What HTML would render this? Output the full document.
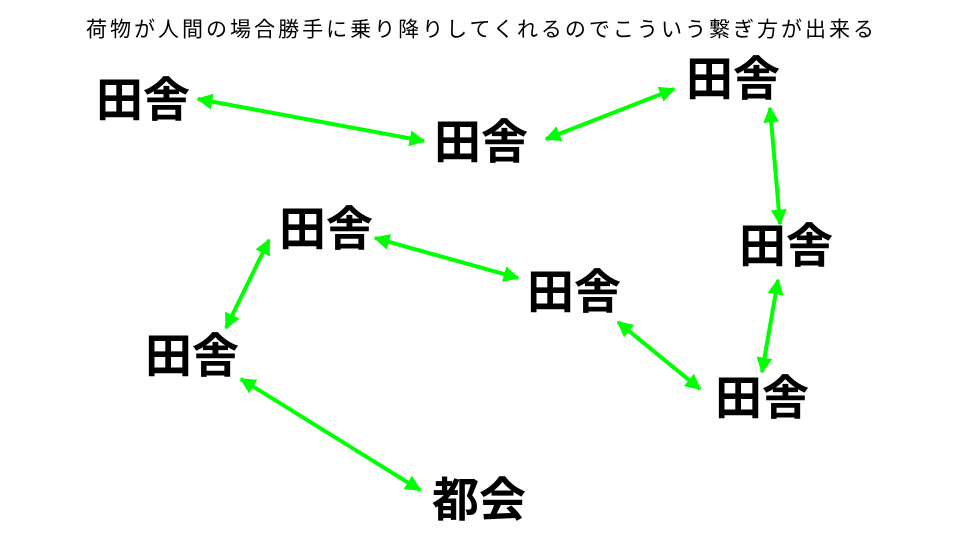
<!DOCTYPE html>
<html><head><meta charset="utf-8"><style>
html,body{margin:0;padding:0;background:#fff;width:960px;height:540px;overflow:hidden}
svg{display:block}
text{font-family:"Liberation Sans","Noto Sans CJK JP",sans-serif}
</style></head><body>
<svg width="960" height="540" viewBox="0 0 960 540" xmlns="http://www.w3.org/2000/svg">
<defs>
<marker id="a" viewBox="0 0 10 10" refX="9" refY="5" markerWidth="4" markerHeight="4" orient="auto-start-reverse" markerUnits="strokeWidth">
<path d="M0,0 L10,5 L0,10 z" fill="#00ff00"/>
</marker>
</defs>
<text x="86" y="31" font-size="21" textLength="788" lengthAdjust="spacing" dominant-baseline="middle">荷物が人間の場合勝手に乗り降りしてくれるのでこういう繋ぎ方が出来る</text>
<g stroke="#00ff00" stroke-width="4" marker-start="url(#a)" marker-end="url(#a)" fill="none">
<line x1="198" y1="99" x2="424" y2="141"/>
<line x1="546" y1="139" x2="674" y2="89"/>
<line x1="770" y1="108" x2="780" y2="224"/>
<line x1="778" y1="280" x2="762" y2="372"/>
<line x1="618" y1="322" x2="700" y2="389"/>
<line x1="375" y1="238" x2="518" y2="278"/>
<line x1="269" y1="240" x2="226" y2="328"/>
<line x1="241" y1="379" x2="420" y2="490"/>
</g>
<g font-size="47" font-weight="bold" text-anchor="middle" dominant-baseline="central">
<text x="143" y="100">田舎</text>
<text x="481" y="142">田舎</text>
<text x="733" y="79">田舎</text>
<text x="786" y="246">田舎</text>
<text x="326" y="229">田舎</text>
<text x="574" y="292">田舎</text>
<text x="192" y="356">田舎</text>
<text x="762" y="398">田舎</text>
<text x="479" y="500">都会</text>
</g>
</svg>
</body></html>
